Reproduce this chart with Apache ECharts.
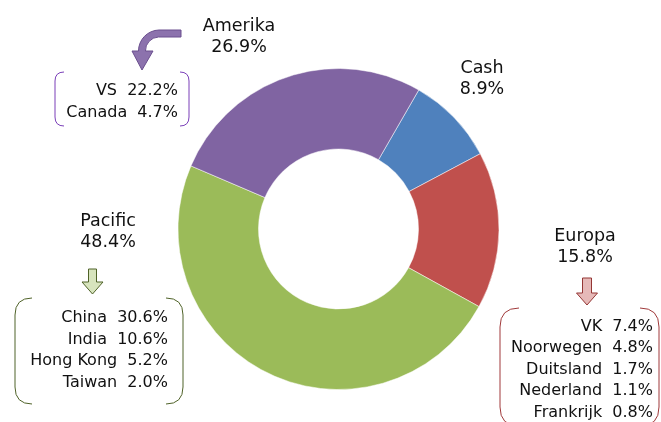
<!DOCTYPE html>
<html>
<head>
<meta charset="utf-8">
<script src="https://cdn.jsdelivr.net/npm/echarts@6/dist/echarts.min.js"></script>
<style>
  html, body { margin: 0; padding: 0; background: #fff; }
  #chart { width: 661px; height: 422px; }
</style>
</head>
<body>
<div id="chart"></div>
<script>
// hoofdverdeling (donut)
const regions = ['Cash', 'Europa', 'Pacific', 'Amerika']
const shares = [8.9, 15.8, 48.4, 26.9]
const colors = ['#4F81BD', '#C0504D', '#9BBB59', '#8064A2']

// uitsplitsing per regio
const amerikaLanden = ['VS', 'Canada']
const amerikaShares = [22.2, 4.7]
const pacificLanden = ['China', 'India', 'Hong Kong', 'Taiwan']
const pacificShares = [30.6, 10.6, 5.2, 2.0]
const europaLanden = ['VK', 'Noorwegen', 'Duitsland', 'Nederland', 'Frankrijk']
const europaShares = [7.4, 4.8, 1.7, 1.1, 0.8]

const font = 'DejaVu Sans'
const pct = v => v.toFixed(1) + '%'

// label centres for the main region labels
const labelPos = {
  Cash: [482, 79],
  Europa: [585, 247],
  Pacific: [108, 232],
  Amerika: [239, 37]
}

function lines(names, values) {
  return names.map((n, i) => n + '  ' + pct(values[i])).join('\n')
}

function bracketPair(l, t, R, b, r) {
  return 'M' + (l + r) + ' ' + t + ' Q' + l + ' ' + t + ' ' + l + ' ' + (t + r) +
    ' L' + l + ' ' + (b - r) + ' Q' + l + ' ' + b + ' ' + (l + r) + ' ' + b +
    ' M' + (R - r) + ' ' + t + ' Q' + R + ' ' + t + ' ' + R + ' ' + (t + r) +
    ' L' + R + ' ' + (b - r) + ' Q' + R + ' ' + b + ' ' + (R - r) + ' ' + b
}

function downArrow(cx, top, headY, tip, shaftW, headW) {
  const s = shaftW / 2
  const h = headW / 2
  return 'M' + (cx - s) + ' ' + top + ' L' + (cx + s) + ' ' + top +
    ' L' + (cx + s) + ' ' + headY + ' L' + (cx + h) + ' ' + headY +
    ' L' + cx + ' ' + tip + ' L' + (cx - h) + ' ' + headY +
    ' L' + (cx - s) + ' ' + headY + ' Z'
}

// graphic component has no generic 'path', so register each outline as a shape
const shapes = {
  curvedArrow: 'M181 30 L159 30 A21 21 0 0 0 138.5 51 L132 51 L142 70 L153 51 L145.5 51 A13.5 13.5 0 0 1 159 37 L181 37 Z',
  bracketAm: bracketPair(55, 72, 189, 126, 9),
  arrowPac: downArrow(92.5, 269, 282, 294, 8, 21),
  bracketPac: bracketPair(15, 298, 183, 404, 17),
  arrowEu: downArrow(587, 278, 293, 305, 9, 21),
  bracketEu: bracketPair(500, 308, 659, 426, 19)
}
Object.keys(shapes).forEach(k => {
  echarts.graphic.registerShape(k, echarts.graphic.extendPath(shapes[k], {}))
})

function shapeEl(name, fill, stroke) {
  return { type: name, shape: {}, style: { fill: fill, stroke: stroke, lineWidth: 1 } }
}

function subText(x, y, txt) {
  return {
    type: 'text',
    x: x,
    y: y,
    style: {
      text: txt,
      fontFamily: font,
      fontSize: 16,
      lineHeight: 21.5,
      fill: '#111',
      align: 'right',
      verticalAlign: 'middle'
    }
  }
}

const chart = echarts.init(document.getElementById('chart'))

chart.setOption({
  animation: false,
  color: colors,
  series: [{
    type: 'pie',
    center: [338.5, 229],
    radius: [80, 160.5],
    startAngle: 60,
    clockwise: true,
    itemStyle: { borderColor: '#fff', borderWidth: 0.5 },
    label: {
      show: true,
      position: 'outside',
      formatter: p => p.name + '\n' + pct(p.value),
      fontFamily: font,
      fontSize: 17.5,
      lineHeight: 21.5,
      color: '#111',
      align: 'center'
    },
    labelLine: { show: false },
    labelLayout: p => {
      const pos = labelPos[regions[p.dataIndex]]
      return { x: pos[0], y: pos[1], align: 'center', verticalAlign: 'middle' }
    },
    emphasis: { disabled: true },
    data: regions.map((r, i) => ({ name: r, value: shares[i] }))
  }],
  graphic: [
    // Amerika
    shapeEl('curvedArrow', '#8C72AD', '#6A4E8E'),
    shapeEl('bracketAm', 'none', '#7A3FB8'),
    subText(178, 102, lines(amerikaLanden, amerikaShares)),
    // Pacific
    shapeEl('arrowPac', '#D7E4BD', '#4F6228'),
    shapeEl('bracketPac', 'none', '#4F6228'),
    subText(168, 350.5, lines(pacificLanden, pacificShares)),
    // Europa
    shapeEl('arrowEu', '#E6B9B8', '#943634'),
    shapeEl('bracketEu', 'none', '#A0393A'),
    subText(653, 369.5, lines(europaLanden, europaShares))
  ]
})
</script>
</body>
</html>
